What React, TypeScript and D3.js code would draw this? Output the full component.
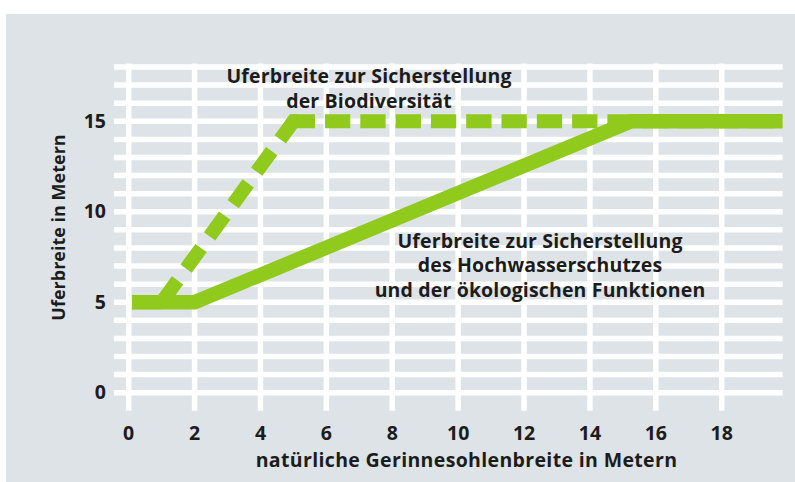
import React from "react";
import * as d3 from "d3";

const xTicks = [0, 2, 4, 6, 8, 10, 12, 14, 16, 18];
const yTicks = [0, 5, 10, 15];
const yGrid = d3.range(0, 19);

// solid: Hochwasserschutz + ökologische Funktionen
const solidLine: [number, number][] = [
  [0.1, 5],
  [2, 5],
  [15.25, 15],
  [19.85, 15],
];
// dashed: Biodiversität
const dashedLine: [number, number][] = [
  [0.1, 5],
  [1, 5],
  [5, 15],
  [19.85, 15],
];

const noteBio = ["Uferbreite zur Sicherstellung", "der Biodiversität"];
const noteHw = [
  "Uferbreite zur Sicherstellung",
  "des Hochwasserschutzes",
  "und der ökologischen Funktionen",
];

const xLabel = "natürliche Gerinnesohlenbreite in Metern";
const yLabel = "Uferbreite in Metern";

const W = 795;
const H = 482;
const GREEN = "#8fca1c";
const BG = "#dde3e7";
const INK = "#1c1c1c";
const FONT = "'Open Sans', 'Noto Sans', sans-serif";

export default function App() {
  const x = d3.scaleLinear().domain([0, 18]).range([128.7, 721.7]);
  const y = d3.scaleLinear().domain([0, 18]).range([392.7, 67]);

  const line = d3
    .line<[number, number]>()
    .x((d) => x(d[0]))
    .y((d) => y(d[1]));

  const gridX0 = x(-0.45);
  const gridX1 = x(19.85);
  const gridY0 = y(-1);
  const gridY1 = y(18.2);

  // dashed line is drawn piecewise, each segment starting its pattern at the corner
  const [d0, d1, corner, dEnd] = dashedLine;
  const cx = x(corner[0]);
  const cy = y(corner[1]);
  const diag = line([corner, d1]) || "";
  const flat = line([corner, dEnd]) || "";
  const dxv = x(d1[0]) - cx;
  const dyv = y(d1[1]) - cy;
  const dl = Math.hypot(dxv, dyv);
  const joint = `M${cx + (dxv / dl) * 4},${cy + (dyv / dl) * 4}L${cx},${cy}L${cx + 4},${cy}`;

  return (
    <svg
      width={W}
      height={H}
      style={{ position: "absolute", left: 0, top: 0 }}
      fontFamily={FONT}
    >
      <rect x={0} y={0} width={W} height={H} fill="#fff" />
      <rect x={6} y={14} width={W - 6} height={H - 14} fill={BG} />

      {/* grid */}
      {yGrid.map((v) => (
        <line
          key={"h" + v}
          x1={gridX0}
          x2={gridX1}
          y1={y(v)}
          y2={y(v)}
          stroke="#fff"
          strokeWidth={5.5}
        />
      ))}
      {xTicks.map((v) => (
        <line
          key={"v" + v}
          x1={x(v)}
          x2={x(v)}
          y1={gridY0}
          y2={gridY1}
          stroke="#fff"
          strokeWidth={5.5}
        />
      ))}

      {/* dashed line */}
      <g fill="none" stroke={GREEN} strokeWidth={14}>
        <path d={line([d0, d1]) || ""} />
        <path d={diag} strokeDasharray="25.5 14.5" strokeDashoffset={3.15} />
        <path d={flat} strokeDasharray="25.3 10" strokeDashoffset={3.7} />
        <path d={joint} strokeLinejoin="miter" />
      </g>
      {/* solid line */}
      <path
        d={line(solidLine) || ""}
        fill="none"
        stroke={GREEN}
        strokeWidth={14.5}
        strokeLinejoin="miter"
      />

      {/* tick labels */}
      <g fontSize={19.5} fontWeight={700} fill={INK}>
        {yTicks.map((v) => (
          <text key={"yl" + v} x={106} y={y(v) + 6.5} textAnchor="end">
            {v}
          </text>
        ))}
        {xTicks.map((v) => (
          <text key={"xl" + v} x={x(v)} y={439.5} textAnchor="middle">
            {v}
          </text>
        ))}
        <text x={466.5} y={467.3} textAnchor="middle" letterSpacing={0.35}>
          {xLabel}
        </text>
        <text
          transform="translate(64.5,227.5) rotate(-90)"
          textAnchor="middle"
          fontSize={18}
        >
          {yLabel}
        </text>
      </g>

      {/* annotations */}
      <g
        fontSize={19.5}
        fontWeight={700}
        fill={INK}
        textAnchor="middle"
        letterSpacing={0.15}
      >
        {noteBio.map((t, i) => (
          <text key={"nb" + i} x={369} y={83.3 + i * 25}>
            {t}
          </text>
        ))}
        {noteHw.map((t, i) => (
          <text key={"nh" + i} x={540} y={248 + i * 24.4}>
            {t}
          </text>
        ))}
      </g>
    </svg>
  );
}
